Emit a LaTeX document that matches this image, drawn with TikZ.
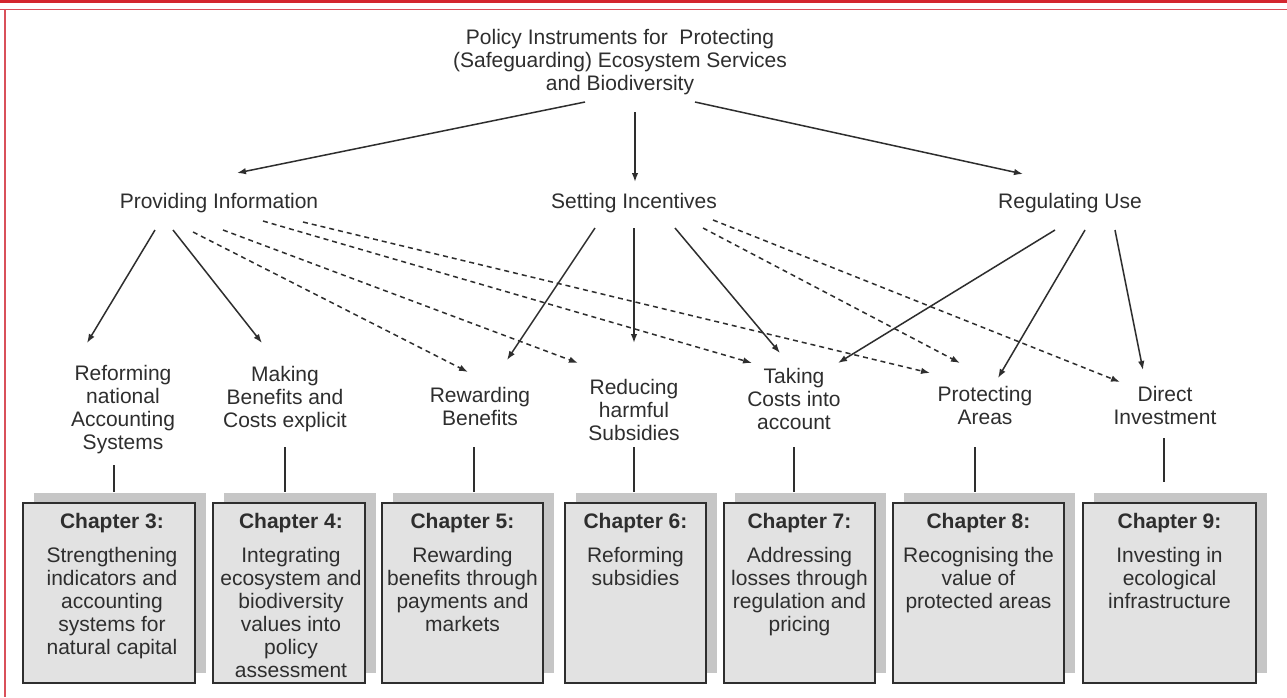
\documentclass[tikz,border=0pt]{standalone}
\usepackage{fontspec}
\setmainfont{Liberation Sans}
\usetikzlibrary{arrows.meta,calc,shadows}
\definecolor{ink}{HTML}{2E2E2E}
\definecolor{boxfill}{HTML}{E2E2E2}
\definecolor{shade}{HTML}{C6C6C6}
\definecolor{frame}{HTML}{D3262E}
\definecolor{framelight}{HTML}{D9505A}

\begin{document}
\begin{tikzpicture}[x=1pt,y=-1pt,
  lbl/.style={font=\fontsize{21}{23}\selectfont, text=ink, align=center, inner sep=1pt},
  arr/.style={draw=ink, line width=1.5pt, -{Latex[length=9pt,width=6.5pt]}},
  darr/.style={arr, dash pattern=on 5pt off 4pt},
  chapbox/.style={draw=ink, line width=2.4pt, fill=boxfill, minimum height=180pt,
    inner sep=0pt, general shadow={fill=shade, shadow xshift=11pt, shadow yshift=10pt}},
  chaptext/.style={lbl, anchor=north, inner sep=0pt},
  link/.style={draw=ink, line width=1.5pt}
]
\useasboundingbox (0,0) rectangle (1287,697);
\fill[white] (0,0) rectangle (1287,697);

% page frame
\fill[frame] (0,0) rectangle (1287,3.2);
\draw[framelight, line width=1.6pt] (0,9.6) -- (1287,9.6);
\draw[framelight, line width=1.6pt] (4.8,9.6) -- (4.8,697);

% title and the three instrument groups
\node[lbl] (T) at (620,62) {Policy Instruments for\ \ Protecting\\(Safeguarding) Ecosystem Services\\and Biodiversity};
\node[lbl] (pi) at (219,203) {Providing Information};
\node[lbl] (si) at (634,203) {Setting Incentives};
\node[lbl] (ru) at (1070,203) {Regulating Use};

% instruments
\node[lbl] (c3l) at (123,410) {Reforming\\national\\Accounting\\Systems};
\node[lbl] (c4l) at (285,399) {Making\\Benefits and\\Costs explicit};
\node[lbl] (c5l) at (480,406) {Rewarding\\Benefits};
\node[lbl] (c6l) at (634,410) {Reducing\\harmful\\Subsidies};
\node[lbl] (c7l) at (794,399) {Taking\\Costs into\\account};
\node[lbl] (c8l) at (985,405) {Protecting\\Areas};
\node[lbl] (c9l) at (1165,405) {Direct\\Investment};

% chapter boxes
\node[chapbox, minimum width=172pt] (b3) at (109,593) {};
\node[chapbox, minimum width=152pt] (b4) at (289,593) {};
\node[chapbox, minimum width=161pt] (b5) at (462.5,593) {};
\node[chapbox, minimum width=141pt] (b6) at (635.5,593) {};
\node[chapbox, minimum width=151pt] (b7) at (799.5,593) {};
\node[chapbox, minimum width=171pt] (b8) at (978.5,593) {};
\node[chapbox, minimum width=173pt] (b9) at (1169.5,593) {};

\node[chaptext] (t3) at ($(b3.north)+(3,11)$) {\textbf{Chapter 3:}\\[11pt]Strengthening\\indicators and\\accounting\\systems for\\natural capital};
\node[chaptext] (t4) at ($(b4.north)+(2,11)$) {\textbf{Chapter 4:}\\[11pt]Integrating\\ecosystem and\\biodiversity\\values into\\policy\\assessment};
\node[chaptext] (t5) at ($(b5.north)+(0,11)$) {\textbf{Chapter 5:}\\[11pt]Rewarding\\benefits through\\payments and\\markets};
\node[chaptext] (t6) at ($(b6.north)+(0,11)$) {\textbf{Chapter 6:}\\[11pt]Reforming\\subsidies};
\node[chaptext] (t7) at ($(b7.north)+(0,11)$) {\textbf{Chapter 7:}\\[11pt]Addressing\\losses through\\regulation and\\pricing};
\node[chaptext] (t8) at ($(b8.north)+(0,11)$) {\textbf{Chapter 8:}\\[11pt]Recognising the\\value of\\protected areas};
\node[chaptext] (t9) at ($(b9.north)+(0,11)$) {\textbf{Chapter 9:}\\[11pt]Investing in\\ecological\\infrastructure};

% title to groups
\draw[arr] ($(T)+(-35,40)$) -- ($(pi)+(18,-30)$);
\draw[arr] ($(T)+(15,50)$) -- ($(si)+(1,-21)$);
\draw[arr] ($(T)+(75,40)$) -- ($(ru)+(-47,-29)$);

% providing information
\draw[arr]  ($(pi)+(-64,27)$) -- ($(c3l)+(-36,-67)$);
\draw[arr]  ($(pi)+(-46,27)$) -- ($(c4l)+(-23,-56)$);
\draw[darr] ($(pi)+(-26,29)$) -- ($(c5l)+(-12,-34)$);
\draw[darr] ($(pi)+(4,27)$)   -- ($(c6l)+(-56,-47)$);
\draw[darr] ($(pi)+(44,18)$)  -- ($(c7l)+(-42,-36)$);
\draw[darr] ($(pi)+(84,19)$)  -- ($(c8l)+(-55,-32)$);

% setting incentives
\draw[arr]  ($(si)+(-39,25)$) -- ($(c5l)+(27,-46)$);
\draw[arr]  ($(si)+(0,25)$)   -- ($(c6l)+(0,-67)$);
\draw[arr]  ($(si)+(41,25)$)  -- ($(c7l)+(-14,-46)$);
\draw[darr] ($(si)+(69,25)$)  -- ($(c8l)+(-25,-42)$);
\draw[darr] ($(si)+(79,17)$)  -- ($(c9l)+(-45,-23)$);

% regulating use
\draw[arr] ($(ru)+(-15,27)$) -- ($(c7l)+(44,-36)$);
\draw[arr] ($(ru)+(15,27)$)  -- ($(c8l)+(13,-27)$);
\draw[arr] ($(ru)+(45,27)$)  -- ($(c9l)+(-22,-35)$);

% instruments to chapters
\draw[link] ($(c3l)+(-9,55)$) -- ($(b3.north)+(5,-10)$);
\draw[link] ($(c4l)+(0,48)$)  -- ($(b4.north)+(-4,-10)$);
\draw[link] ($(c5l)+(-6,41)$) -- ($(b5.north)+(11.5,-10)$);
\draw[link] ($(c6l)+(0,37)$)  -- ($(b6.north)+(-1.5,-10)$);
\draw[link] ($(c7l)+(0,48)$)  -- ($(b7.north)+(-5.5,-10)$);
\draw[link] ($(c8l)+(-10,42)$) -- ($(b8.north)+(-3.5,-10)$);
\draw[link] ($(c9l)+(-1,33)$) -- ($(b9.north)+(-5.5,-20)$);
\end{tikzpicture}
\end{document}
